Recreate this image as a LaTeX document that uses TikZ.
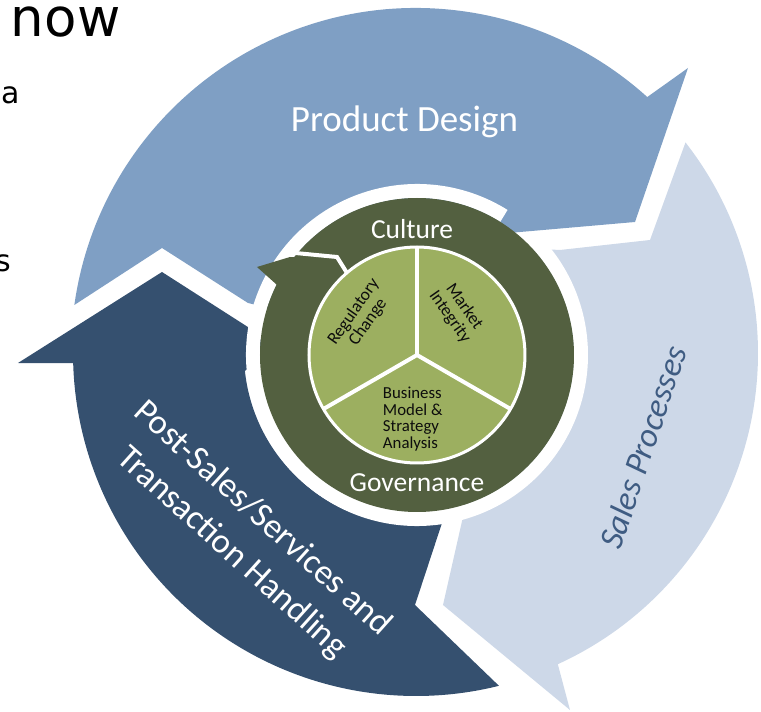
\documentclass[tikz,border=0pt]{standalone}
\usepackage{fontspec}
\setmainfont{Carlito}
\newfontfamily\slidefont{DejaVu Sans}
\definecolor{designblue}{RGB}{127,159,196}
\definecolor{salesblue}{RGB}{205,216,232}
\definecolor{serviceblue}{RGB}{53,80,111}
\definecolor{ringgreen}{RGB}{83,96,64}
\definecolor{coregreen}{RGB}{156,175,96}
\definecolor{salestext}{RGB}{63,92,130}
\begin{document}
\begin{tikzpicture}[x=1pt,y=1pt,
  lbl/.style={inner sep=0pt, outer sep=0pt},
  bigwhite/.style={lbl, text=white},
  coretext/.style={lbl, text=black!95, align=center, font=\fontsize{17.5}{17.5}\selectfont},
  gap/.style={white, line width=4pt, line join=miter}]
\useasboundingbox (-416,-359) rectangle (345,353);
\clip (-416,-359) rectangle (345,353);

% outer cycle: three block arrows around the centre
\fill[designblue] (172:345) arc[start angle=172, end angle=47.9, radius=345]
  -- (272,285) -- (219,131) -- (53:150)
  arc[start angle=53, end angle=163, radius=150]
  -- (-168,50) -- (-254,105) -- cycle;
\fill[salesblue] (38:342) arc[start angle=38, end angle=-65.5, radius=342]
  -- (154,-357) -- (27,-252) -- (49,-155) -- (-72.5:150)
  arc[start angle=-72.5, end angle=44.4, radius=150]
  -- (144,103) -- (234,113) -- cycle;
\fill[serviceblue] (-254,81) -- (-398,-10) -- (181.7:343)
  arc[start angle=181.7, end angle=284, radius=343]
  -- (-1,-252) -- (26,-170)
  arc[start angle=278.7, end angle=186, radius=172]
  -- (-140,8) -- cycle;

% governance ring with its white rim
\begin{scope}[shift={(1,-2)}]
  \draw[white, line width=14pt] (58:164) arc[start angle=58, end angle=405, radius=164];
  \fill[ringgreen] (0,0) circle[radius=157];
\end{scope}
% head of the ring arrow
\fill[ringgreen] (-159,86) -- (-126,96) -- (-79,93) -- (-69,78) -- (-116,43) -- (-140,69) -- cycle;
\draw[gap] (-131,101) -- (-79,96) -- (-69,80);

% core disc split in three
\begin{scope}[shift={(1,-2)}]
  \node[circle, fill=coregreen, draw=white, line width=3pt, minimum size=216pt, inner sep=0pt] (core) at (0,0) {};
  \coordinate (c1) at (90:108);
  \coordinate (c2) at (210:108);
  \coordinate (c3) at (330:108);
  \draw[white, line width=4pt] (core.center) -- (c1);
  \draw[white, line width=4pt] (core.center) -- (c2);
  \draw[white, line width=4pt] (core.center) -- (c3);
\end{scope}

% labels
\node[bigwhite, anchor=base, font=\fontsize{37}{44}\selectfont] (design) at (-11.5,221) {Product Design};
\node[lbl, rotate=71.6, text=salestext, font=\fontsize{34}{40}\selectfont\itshape] (sales) at (227,-94) {Sales Processes};
\node[bigwhite, rotate=-42, align=center, font=\fontsize{35}{46}\selectfont] (service) at (-169,-183) {Post-Sales/Services and\\Transaction Handling};
\node[bigwhite, anchor=base, font=\fontsize{27.5}{32}\selectfont] (culture) at (-4,114) {Culture};
\node[bigwhite, anchor=base, font=\fontsize{27.5}{32}\selectfont] (governance) at (1,-139) {Governance};
\node[coretext, anchor=west, align=left, font=\fontsize{16.8}{16.7}\selectfont] (business) at (-33,-66) {Business\\Model \&\\Strategy\\Analysis};
\node[coretext, rotate=55] (regulatory) at (-55,36) {Regulatory\\Change};
\node[coretext, rotate=-55] (market) at (41,41) {Market\\Integrity};

% slide text beside the cycle
\node[lbl, anchor=base west, font=\slidefont\fontsize{53}{60}\selectfont] (now) at (-405,316) {now};
\node[lbl, anchor=base east, font=\slidefont\fontsize{30}{36}\selectfont] (texta) at (-396,249) {a};
\node[lbl, anchor=base east, font=\slidefont\fontsize{30}{36}\selectfont] (texts) at (-404.5,81) {s};
\end{tikzpicture}
\end{document}
